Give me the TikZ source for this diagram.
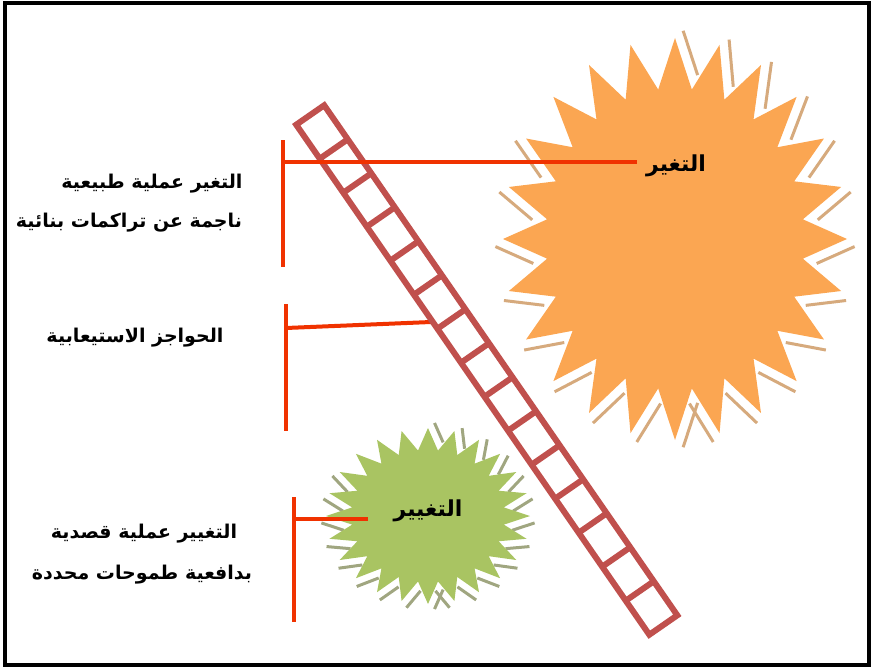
\documentclass[tikz,border=0pt]{standalone}
\usepackage{fontspec}
\newfontfamily\arabicfont[Script=Arabic]{DejaVu Sans}
\TeXXeTstate=1
\usetikzlibrary{calc}
\definecolor{ladderred}{RGB}{192,80,77}
\definecolor{linered}{RGB}{240,50,0}
\definecolor{starorange}{RGB}{251,166,82}
\definecolor{shadoworange}{RGB}{214,170,125}
\definecolor{stargreen}{RGB}{169,196,98}
\definecolor{shadowgreen}{RGB}{160,166,128}
\newcommand\starpts[4]{(0:#1 and #2) \foreach \i in {0,...,23}{ -- (\i*15+7.5:#3 and #4) -- (\i*15+15:#1 and #2)} -- cycle}
\newcommand\sliverlist{270/277.5/90, 285/292.5/90, 300/307.5/90, 315/322.5/90, 330/337.5/90, 345/352.5/90, 0/7.5/90, 15/22.5/90, 30/37.5/90, 45/52.5/90, 60/67.5/90, 75/82.5/90, 90/82.5/-90, 105/97.5/-90, 120/112.5/-90, 135/127.5/-90, 150/142.5/-90, 165/157.5/-90, 180/172.5/-90, 195/187.5/-90, 210/202.5/-90}
\newcommand\slivers[6]{%
  \foreach \th/\vv/\rot in \sliverlist {
    \coordinate (T) at ($(#1)+(\th:#2 and #3)$);
    \coordinate (V) at ($(#1)+(\vv:#4 and #5)$);
    \coordinate (S1) at ($(T)!-0.08!(V)$);
    \coordinate (S2) at ($(T)!0.78!(V)$);
    \draw ($(S1)!#6!\rot:(V)$) -- ($(S2)!#6!\rot:(V)$);
  }}
\tikzset{
  lbl/.style={font=\arabicfont\bfseries\fontsize{19}{22}\selectfont, inner sep=0pt},
  startxt/.style={font=\arabicfont\bfseries\fontsize{22}{25}\selectfont, inner sep=0pt},
  ladder/.style={draw=ladderred, line width=6pt, line join=miter},
  bracket/.style={draw=linered, line width=4pt},
}
\begin{document}
\begin{tikzpicture}[x=1pt,y=-1pt]
\useasboundingbox (0,0) rectangle (874,669);
\coordinate (oc) at (675,239);
\coordinate (gc) at (428,516);
% orange star
\begin{scope}[color=shadoworange, line width=3pt]
  \slivers{oc}{172}{201}{129}{150.75}{10pt}
\end{scope}
\path[fill=starorange, shift={(oc)}] \starpts{172}{201}{129}{150.75};
% green star
\begin{scope}[color=shadowgreen, line width=3pt]
  \slivers{gc}{102}{88}{76.5}{66}{8pt}
\end{scope}
\path[fill=stargreen, shift={(gc)}] \starpts{102}{88}{76.5}{66};
% brackets
\coordinate (b1t) at (283,140); \coordinate (b1b) at (283,267); \coordinate (b1m) at (283,162); \coordinate (e1) at (637,162);
\coordinate (b2t) at (286,304); \coordinate (b2b) at (286,431); \coordinate (b2m) at (286,328); \coordinate (e2) at (431,322);
\coordinate (b3t) at (294,497); \coordinate (b3b) at (294,622); \coordinate (b3m) at (294,519); \coordinate (e3) at (368,519);
\draw[bracket] (b2t) -- (b2b);
\draw[bracket] (b2m) -- (e2);
% ladder
\coordinate (P1) at (324.2,105.3);
\coordinate (P2) at (677.3,615.3);
\coordinate (P3) at (649.3,634.7);
\coordinate (P4) at (296.2,124.7);
\draw[ladder] (P1) -- (P2) -- (P3) -- (P4) -- cycle;
\foreach \k in {1,...,14} \draw[ladder] ($(P4)!\k/15!(P3)$) -- ($(P1)!\k/15!(P2)$);
\draw[bracket] (b1t) -- (b1b);
\draw[bracket] (b1m) -- (e1);
\draw[bracket] (b3t) -- (b3b);
\draw[bracket] (b3m) -- (e3);
% texts
\node[startxt] (so) at (676,166) {\beginR التغير\endR};
\node[startxt] (sg) at (428,511) {\beginR التغيير\endR};
\node[lbl] (l1a) at (152,184) {\beginR التغير عملية طبيعية\endR};
\node[lbl] (l1b) at (129,223) {\beginR ناجمة عن تراكمات بنائية\endR};
\node[lbl] (l2) at (135,338) {\beginR الحواجز الاستيعابية\endR};
\node[lbl] (l3a) at (144,534) {\beginR التغيير عملية قصدية\endR};
\node[lbl] (l3b) at (142,575) {\beginR بدافعية طموحات محددة\endR};
% frame
\draw[line width=4.5pt] (5,3) rectangle (869,665);
\end{tikzpicture}
\end{document}
